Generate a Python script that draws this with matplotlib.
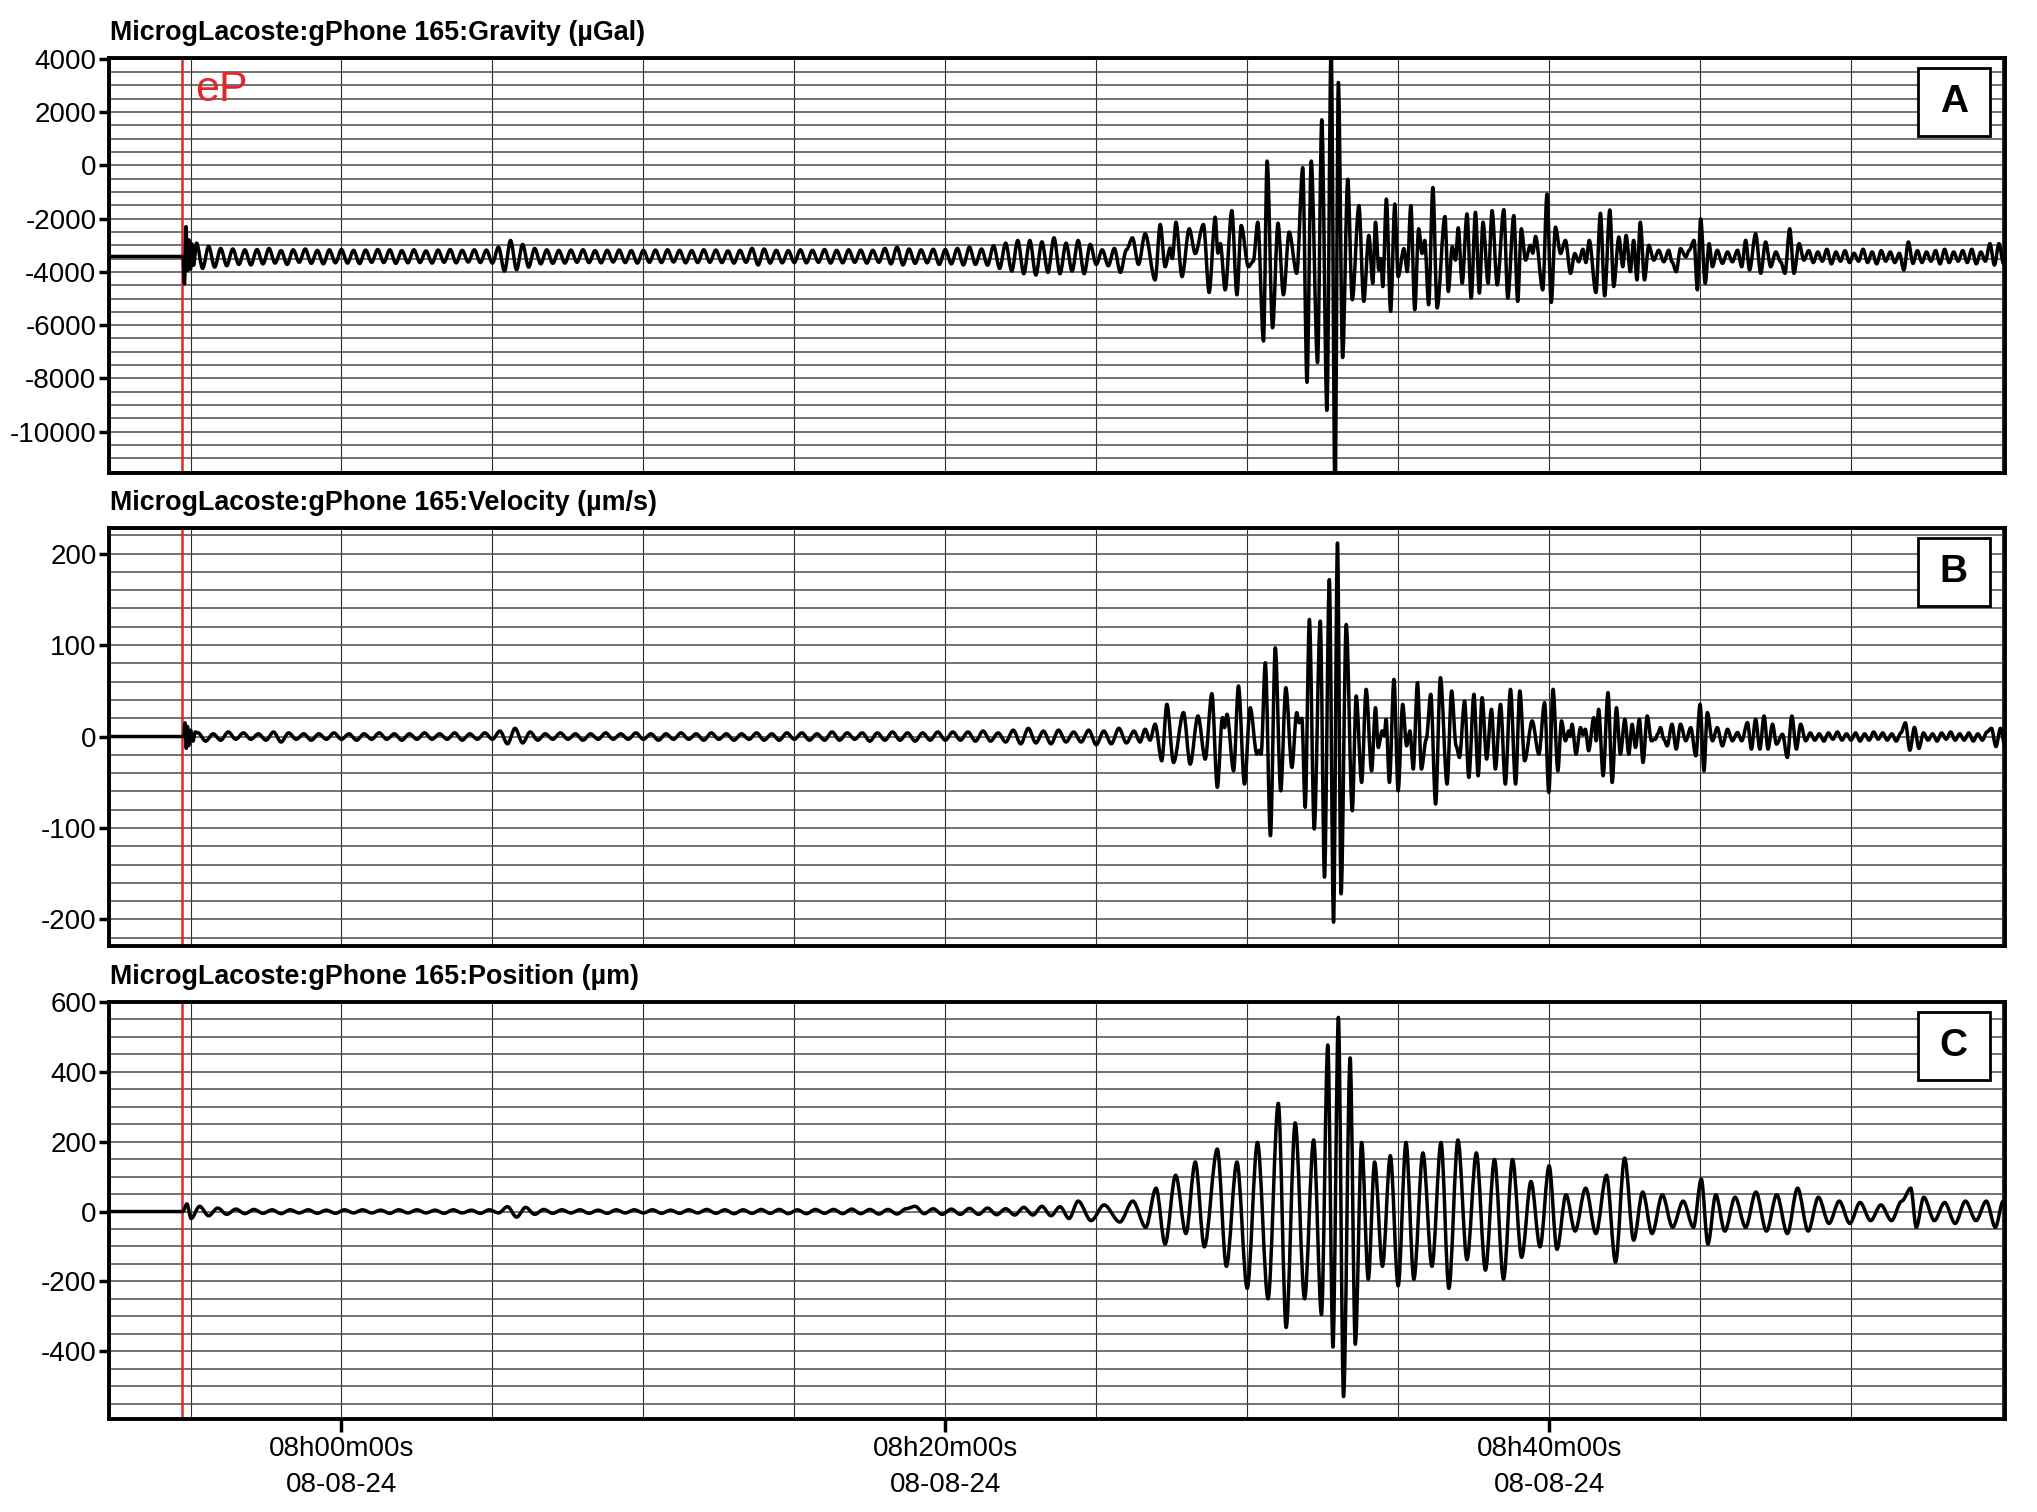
import numpy as np
import matplotlib
matplotlib.use("Agg")
import matplotlib.pyplot as plt
from matplotlib.ticker import MultipleLocator
from matplotlib.patches import Rectangle, PathPatch
from matplotlib.path import Path
from matplotlib import font_manager as fm

# ---------------- data (time in minutes relative to 08h00m00s, 08-08-24) ----------------
x_range = (-7.7, 55.1)
eP_time = -5.29
xtick_minutes = [0, 20, 40]
xtick_labels = ["08h00m00s\n08-08-24", "08h20m00s\n08-08-24", "08h40m00s\n08-08-24"]

titles = ["MicrogLacoste:gPhone 165:Gravity (\u00b5Gal)",
          "MicrogLacoste:gPhone 165:Velocity (\u00b5m/s)",
          "MicrogLacoste:gPhone 165:Position (\u00b5m)"]
panel_letters = ["A", "B", "C"]

# ---- Gravity (µGal)
grav_base = -3420
grav_onset = [(-5.25, -3420), (-5.20, -4450), (-5.15, -2300), (-5.10, -3950), (-5.05, -2800),
              (-5.00, -3900), (-4.95, -2950), (-4.90, -3750)]
grav_quiet_start, grav_quiet_step = -4.8, 0.2
grav_quiet_dev = [500, -450, 380, -400, 300, -350, 280, -300, 250, -320, 260, -280, 300, -250, 220, -300, 250, -220, 280, -260, 230, -280, 250, -240, 260,
                  -250, 230, -270, 240, -220, 260, -230, 250, -260, 220, -240, 250, -230, 210, -250, 240, -220, 260, -240, 230, -210, 250, -230, 240, -250,
                  350, -550, 600, -500, 450, -400, 300, -280, 250, -260, 230, -250, 240, -220, 250, -230, 220, -240, 230, -210, 240, -230, 220, -250, 230,
                  -220, 240, -230, 250, -210, 230, -240, 220, -230, 250, -220, 240, -230, 210, -250, 230, -220, 300, -320, 280, -250, 230, -240, 220, -230,
                  250, -240, 230, -220, 260, -250, 230, -240, 250, -220, 240, -250, 230, -220, 300, -280, 350, -320, 280, -260, 250, -240, 270, -300, 260,
                  -280, 300, -320, 350, -300, 280, -330, 400, -450, 500, -550, 600,
                  -650, 600, -700, 550, -600, 700, -650, 500, -550, 600, -650, 450, -300, 250, -350, 300, -600, 250, 700, -300]
grav_peaks = [(26.62, -2567), (26.95, -4303), (27.12, -2220), (27.28, -3807), (27.45, -3100), (27.52, -3500), (27.64, -2133),
              (27.84, -4179), (28.08, -2381), (28.28, -3311), (28.55, -2220), (28.74, -4774), (28.94, -1947), (29.03, -3300),
              (29.11, -2939), (29.27, -4675), (29.49, -1699), (29.66, -4861), (29.80, -2257), (30.04, -3807), (30.20, -3600),
              (30.35, -2133), (30.54, -6597), (30.66, 161), (30.84, -6101), (31.02, -2170), (31.20, -4861), (31.39, -2505),
              (31.64, -4055), (31.84, -87), (31.98, -8147), (32.12, 161), (32.33, -7403), (32.47, 1711), (32.64, -9201),
              (32.78, 4500), (32.91, -12500), (33.02, 3112), (33.16, -7217), (33.33, -521), (33.48, -5047), (33.70, -1513),
              (33.86, -5109), (34.03, -2629), (34.16, -4427), (34.25, -2133), (34.36, -3931), (34.43, -3500), (34.49, -4551),
              (34.61, -1265), (34.75, -5481), (34.89, -1451), (35.00, -4179), (35.19, -3125), (35.30, -3993), (35.42, -1513),
              (35.55, -5419), (35.68, -2381), (35.79, -3311), (35.88, -2815), (36.01, -5233), (36.15, -831), (36.29, -5357),
              (36.55, -1922), (36.66, -4737), (36.79, -3063), (36.90, -3559), (36.99, -2344), (37.12, -4427), (37.28, -1823),
              (37.42, -4985), (37.56, -1761), (37.69, -4799), (37.81, -2133), (37.98, -4427), (38.11, -1699), (38.28, -4489),
              (38.50, -1662), (38.63, -4985), (38.83, -1885), (38.96, -5109), (39.08, -2381), (39.22, -3559), (39.38, -3001),
              (39.46, -3300), (39.55, -2666), (39.79, -4675), (39.93, -1079), (40.07, -5146), (40.21, -2319), (40.38, -3311),
              (40.54, -2815), (40.71, -4055), (40.85, -3311), (40.98, -3621), (41.12, -3150), (41.22, -3650), (41.33, -2815),
              (41.55, -4774), (41.70, -1798), (41.84, -4898), (42.01, -1674), (42.14, -4551), (42.31, -2691), (42.44, -3807),
              (42.55, -2629), (42.69, -3993), (42.80, -2815), (42.91, -4303), (43.02, -2133), (43.16, -4303), (43.30, -3001),
              (43.47, -3559), (43.63, -3187), (43.80, -3621), (43.96, -3187), (44.07, -3621), (44.21, -3993), (44.35, -3125),
              (44.53, -3435), (44.64, -3187), (44.80, -2815), (44.91, -4675), (45.02, -2009), (45.17, -4427), (45.30, -2939),
              (45.41, -3807), (45.57, -3187), (45.74, -3683), (45.91, -3249), (46.07, -3621), (46.24, -3187), (46.38, -3807),
              (46.51, -2815), (46.64, -3931), (46.84, -2567), (47.01, -4055), (47.17, -2877), (47.34, -3807), (47.51, -3249),
              (47.67, -3621), (47.81, -4055), (47.97, -2381), (48.11, -4055), (48.28, -2939), (48.44, -3559)]
grav_tail_start, grav_tail_step = 48.6, 0.15
grav_tail = [-3200, -3650, -3250, -3600, -3150, -3700, -3250, -3600, -3200, -3650, -3300, -3600, -3150, -3650, -3250,
             -3700, -3200, -3600, -3250, -3650, -3300, -3931, -2877, -3683, -3200, -3650, -3250, -3600, -3200, -3700,
             -3150, -3650, -3250, -3600, -3200, -3650, -3150, -3700, -3250, -3600, -2939, -3745, -2939, -3683, -3400]

# ---- Velocity (µm/s)
vel_base = 0
vel_onset = [(-5.22, 0), (-5.18, 15), (-5.14, -13), (-5.10, 11), (-5.06, -10), (-5.00, 7), (-4.92, -5), (-4.84, 5)]
vel_quiet_start, vel_quiet_step = -4.75, 0.25
vel_quiet_dev = [4, -5, 3, -4, 5, -3, 4, -3, 3, -4, 5, -6, 4, -3, 3, -4, 3, -3, 4, -3,
                 3, -4, 3, -3, 4, -3, 3, -4, 3, -3, 4, -3, 3, -3, 4, -4, 3, -3, 4, -3,
                 6, -8, 9, -7, 5, -4, 3, -3, 4, -3, 3, -4, 3, -3, 4, -3, 3, -3, 4, -3,
                 3, -4, 3, -3, 4, -3, 3, -4, 4, -3, 3, -4, 3, -3, 4, -4, 3, -4, 4, -3,
                 4, -4, 3, -4, 5, -4, 4, -3, 4, -5, 4, -4, 5, -4, 4, -5, 4, -4, 5, -4,
                 5, -4, 5, -5, 6, -5, 4, -6, 7, -8, 9, -7, 6, -8, 7, -6, 5, -6, 7, -9, 6, -8, 9, -7, 6]
vel_peaks = [(26.45, -6), (26.62, 8), (26.78, -4), (26.95, 13.5),
             (27.17, -26.5), (27.34, 35.3), (27.56, -28.4), (27.89, 26.2), (28.11, -30.2), (28.37, 22.5), (28.61, -24.7),
             (28.83, 46.9), (29.01, -55.6), (29.18, 20.7), (29.25, 9.8), (29.33, 24.4), (29.55, -37.5), (29.71, 55.3),
             (29.91, -52.0), (30.10, 31.6), (30.32, -19.3), (30.40, -15.0), (30.46, -19.3), (30.60, 80.7), (30.77, -108.4),
             (30.93, 97.1), (31.11, -59.3), (31.28, 53.5), (31.48, -33.8), (31.64, 26.2), (31.72, 15.0), (31.81, 20.0),
             (31.92, -77.4), (32.06, 128.0), (32.22, -101.1), (32.42, 126.2), (32.56, -153.8), (32.72, 171.6),
             (32.86, -202.9), (32.99, 211.6), (33.11, -172.0), (33.28, 122.5), (33.48, -81.1), (33.61, 44.4),
             (33.79, -50.2), (33.94, 51.6), (34.12, -37.5), (34.25, 31.6), (34.34, -12.0), (34.47, 6.2), (34.54, 0.7),
             (34.60, 18.9), (34.71, -50.2), (34.86, 62.5), (35.00, -59.3), (35.15, 35.3), (35.28, -10.2), (35.39, 6.2),
             (35.50, -35.6), (35.64, 58.9), (35.77, -35.6), (35.93, -2.9), (36.08, 46.2), (36.24, -73.8), (36.40, 64.4),
             (36.62, -52.0), (36.77, 49.8), (36.92, -10.2), (37.03, -22.9), (37.20, 38.9), (37.34, -44.7), (37.51, 46.2),
             (37.65, -42.9), (37.78, 42.5), (37.93, -24.7), (38.09, 29.8), (38.22, -35.6), (38.39, 35.3), (38.55, -52.0),
             (38.72, 51.6), (38.89, -52.0), (39.03, 49.8), (39.19, -26.5), (39.44, 17.1), (39.66, -19.3), (39.85, 37.1),
             (39.99, -61.1), (40.13, 51.6), (40.29, -37.5), (40.41, 17.1), (40.54, -4.7), (40.65, 6.2), (40.70, 0.0),
             (40.76, 13.5), (40.89, -19.3), (41.04, 9.8), (41.12, 2.0), (41.20, 8.0), (41.31, -15.6), (41.48, 20.7),
             (41.56, -4.7), (41.64, 29.8), (41.79, -42.9), (41.95, 48.0), (42.09, -50.2), (42.23, 31.6), (42.36, -19.3),
             (42.51, 18.9), (42.64, -19.3), (42.75, 13.5), (42.86, -12.0), (42.99, 18.9), (43.11, -28.4), (43.25, 22.5),
             (43.39, -4.7), (43.52, -2.9), (43.60, 3.0), (43.69, 9.8), (43.80, -3.0), (43.91, -10.2), (44.07, 13.5),
             (44.21, -13.8), (44.35, 13.5), (44.53, -4.7), (44.69, 9.8), (44.86, -21.1), (45.00, 35.3), (45.13, -37.5),
             (45.24, 26.2), (45.41, -4.7), (45.57, 9.8), (45.74, -10.2), (45.91, 8.0), (46.07, -4.7), (46.24, 4.4),
             (46.38, -4.7), (46.57, 15.3), (46.70, -13.8), (46.84, 18.9), (46.98, -13.8), (47.12, 22.5), (47.25, -13.8),
             (47.40, 13.5), (47.53, -8.4), (47.73, 2.5), (47.89, -22.9), (48.04, 22.5), (48.19, -13.8), (48.33, 13.5),
             (48.50, -4.7)]
vel_tail_start, vel_tail_step = 48.65, 0.15
vel_tail = [4, -4, 3, -5, 4, -3, 5, -4, 3, -4, 4, -5, 3, -4, 5, -3, 4, -4, 3, -5, 4, 15, -15, 10, -13,
            4, -4, 3, -5, 4, -3, 5, -4, 3, -4, 4, -5, 3, -4, 5, 9, -11, 9, -10, 0]

# ---- Position (µm)
pos_base = 0
pos_onset = [(-5.25, 0), (-5.12, 22), (-4.98, -20)]
pos_quiet_start, pos_quiet_step = -4.7, 0.3
pos_quiet_dev = [15, -12, 10, -8, 7, -6, 6, -5, 5, -6, 5, -4, 5, -5, 4, -5, 5, -4, 5, -4,
                 4, -5, 5, -4, 5, -4, 4, -5, 5, -4, 4, -5, 5, -4, 14, -16, 12, -8, 6, -5,
                 5, -4, 5, -5, 4, -5, 5, -4, 5, -4, 5, -5, 4, -5, 5, -4, 6, -5, 5, -6,
                 5, -5, 6, -5, 6, -6, 5, -6, 6, -5, 6, -6, 7, -6, 6, -7, 6, -7, 8, 15,
                 -6, 8, -8, 7, -8, 9, -8, 10, -9, 8, -10, 12, -10, 15, -12, 14, -20]
pos_peaks = [(24.40, 30), (24.83, -26), (25.26, 19), (25.78, -30), (26.21, 30), (26.64, -45), (26.98, 67), (27.28, -93),
             (27.63, 104), (27.97, -63), (28.28, 142), (28.58, -101), (29.01, 179), (29.31, -157), (29.66, 142),
             (30.00, -220), (30.34, 198), (30.69, -250), (31.03, 310), (31.29, -332), (31.59, 254), (31.90, -250),
             (32.20, 205), (32.46, -295), (32.67, 477), (32.84, -388), (33.02, 556), (33.19, -530), (33.41, 440),
             (33.58, -380), (33.79, 198), (34.01, -194), (34.22, 142), (34.48, -157), (34.74, 160), (35.00, -213),
             (35.26, 198), (35.52, -194), (35.82, 168), (36.12, -157), (36.42, 198), (36.68, -220), (36.98, 205),
             (37.28, -138), (37.59, 168), (37.89, -168), (38.19, 149), (38.49, -194), (38.79, 149), (39.09, -131),
             (39.40, 86), (39.70, -101), (40.00, 131), (40.26, -108), (40.56, 48), (40.86, -56), (41.21, 67),
             (41.55, -63), (41.90, 104), (42.20, -145), (42.50, 153), (42.80, -82), (43.10, 56), (43.41, -63),
             (43.75, 48), (44.09, -45), (44.44, 30), (44.78, -45), (45.04, 93), (45.26, -93), (45.52, 48), (45.82, -56),
             (46.16, 41), (46.51, -45), (46.85, 56), (47.20, -56), (47.54, 48), (47.89, -63), (48.23, 67), (48.58, -56),
             (48.92, 41), (49.27, -34), (49.61, 30), (49.96, -34), (50.30, 26), (50.65, -26), (50.99, 19), (51.34, -26),
             (51.68, 30), (51.98, 67), (52.16, -45), (52.41, 41), (52.76, -26), (53.10, 26), (53.45, -34), (53.79, 30),
             (54.14, -26), (54.48, 30), (54.78, -45), (55.04, 30), (55.21, -7)]

y_limits = [(-11550, 4030), (-229, 228), (-594, 596)]
y_ticks = [[-10000, -8000, -6000, -4000, -2000, 0, 2000, 4000],
           [-200, -100, 0, 100, 200],
           [-400, -200, 0, 200, 400, 600]]
y_grid_step = [500, 20, 50]


def build(base, onset, qstart, qstep, qdev, peaks, tstart=None, tstep=None, tail=None):
    t = [x_range[0]]
    v = [base]
    for a, b in onset:
        t.append(a); v.append(b)
    qt = qstart + qstep * np.arange(len(qdev))
    t.extend(qt); v.extend(base + np.asarray(qdev, float))
    for a, b in peaks:
        t.append(a); v.append(b)
    if tail is not None:
        tt = tstart + tstep * np.arange(len(tail))
        t.extend(tt); v.extend(tail)
    return np.asarray(t, float), np.asarray(v, float)


series = [
    build(grav_base, grav_onset, grav_quiet_start, grav_quiet_step, grav_quiet_dev, grav_peaks,
          grav_tail_start, grav_tail_step, grav_tail),
    build(vel_base, vel_onset, vel_quiet_start, vel_quiet_step, vel_quiet_dev, vel_peaks,
          vel_tail_start, vel_tail_step, vel_tail),
    build(pos_base, pos_onset, pos_quiet_start, pos_quiet_step, pos_quiet_dev, pos_peaks),
]


def smooth_trace_path(t, v):
    """Bezier path through the turning points (horizontal tangents at each extreme)."""
    verts = [(t[0], v[0])]
    codes = [Path.MOVETO]
    for k in range(1, len(t)):
        dx = t[k] - t[k - 1]
        verts += [(t[k - 1] + dx / 3.0, v[k - 1]), (t[k] - dx / 3.0, v[k]), (t[k], v[k])]
        codes += [Path.CURVE4] * 3
    return Path(verts, codes)


# ---------------- fonts ----------------
def pick(*names):
    for n in names:
        try:
            fm.findfont(fm.FontProperties(family=n), fallback_to_default=False)
            return n
        except Exception:
            pass
    return "DejaVu Sans"


sans = pick("Liberation Sans", "Arial", "DejaVu Sans")
plt.rcParams["font.family"] = [sans, "DejaVu Sans"]
plt.rcParams["axes.unicode_minus"] = False

# ---------------- figure ----------------
W, H = 2037, 1512
fig = plt.figure(figsize=(W / 100, H / 100), dpi=100)
left_px, right_px = 109, 2005
panels_px = [(58, 473), (528, 946), (1002, 1419)]

red = "#e3262b"
for i, (top, bot) in enumerate(panels_px):
    ax = fig.add_axes([left_px / W, 1 - bot / H, (right_px - left_px) / W, (bot - top) / H])
    t, v = series[i]
    ax.set_xlim(*x_range)
    ax.set_ylim(*y_limits[i])

    ax.xaxis.set_minor_locator(MultipleLocator(5))
    ax.yaxis.set_minor_locator(MultipleLocator(y_grid_step[i]))
    ax.set_yticks(y_ticks[i])
    ax.set_xticks(xtick_minutes)
    ax.grid(True, axis="y", which="both", color="#4a4a4a", lw=1.1, zorder=1)
    ax.grid(True, axis="x", which="both", color="#2e2e2e", lw=0.8, zorder=1)
    ax.set_axisbelow(True)

    ax.tick_params(axis="y", which="major", direction="out", length=7, width=2.5,
                   labelsize=20, pad=2)
    ax.tick_params(which="minor", length=0)
    if i == 2:
        ax.set_xticklabels(xtick_labels, fontsize=20, linespacing=1.5)
        ax.tick_params(axis="x", which="major", direction="out", length=9, width=2.5, pad=3)
    else:
        ax.tick_params(axis="x", which="major", length=0, labelbottom=False)

    for s in ax.spines.values():
        s.set_linewidth(2.8)

    ax.axvline(eP_time, color=red, lw=1.8, zorder=2)
    trace = PathPatch(smooth_trace_path(t, v), facecolor="none", edgecolor="black",
                      lw=2.5, joinstyle="round", capstyle="round", zorder=3)
    ax.add_patch(trace)

    ax.annotate(titles[i], xy=(0, 1), xycoords="axes fraction", xytext=(1, 18),
                textcoords="offset points", ha="left", va="center",
                fontsize=19.4, fontweight="bold")

    ax.add_patch(Rectangle((0.954, 0.813), 0.038, 0.162, transform=ax.transAxes,
                           facecolor="white", edgecolor="black", lw=2, zorder=5))
    ax.text(0.973, 0.894, panel_letters[i], transform=ax.transAxes, ha="center",
            va="center", fontsize=28, fontweight="bold", zorder=6)

    if i == 0:
        ax.text(eP_time + 0.45, 0.922, "eP", transform=ax.get_xaxis_transform(),
                color=red, fontsize=31, ha="left", va="center", zorder=6)

fig.savefig("out.png", dpi=100)
